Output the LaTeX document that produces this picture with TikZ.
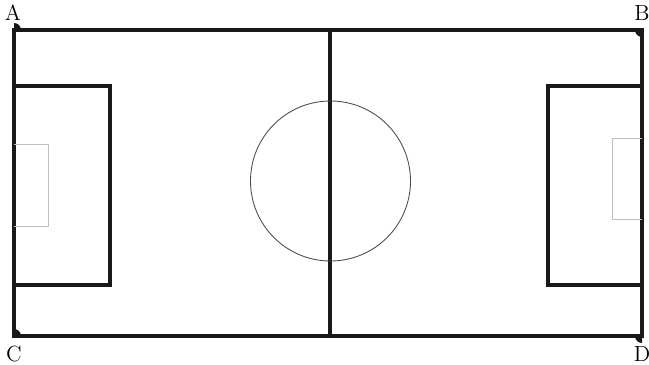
\documentclass[tikz,border=0pt]{standalone}
\usepackage{tikz}
\begin{document}
\begin{tikzpicture}[x=0.02cm,y=-0.02cm,
	thickline/.style={line width=2.3pt,black!90},
	thinline/.style={line width=0.5pt,black!70},
	goalline/.style={line width=0.5pt,black!25},
	corner/.style={font=\fontsize{12.5}{14}\selectfont}]
			\useasboundingbox (0,0) rectangle (649,365);
			\draw[thickline] (14,30) rectangle (642,336);
			\draw[thickline] (330,30) -- (330,336);
			\draw[thinline] (330.5,181) circle (80);
			\draw[thickline] (14,86) -- (110,86) -- (110,285) -- (14,285);
			\draw[thickline] (642,86) -- (548,86) -- (548,285) -- (642,285);
			\draw[goalline] (14,144) -- (48,144) -- (48,226) -- (14,226);
			\draw[goalline] (642,138) -- (612,138) -- (612,219) -- (642,219);
			\fill[black!90] (14,30) -- (21,30) arc (0:-90:7) -- cycle;
			\fill[black!90] (642,30) -- (642,37) arc (90:180:7) -- cycle;
			\fill[black!90] (14,336) -- (14,329) arc (-90:0:7) -- cycle;
			\fill[black!90] (642,336) -- (635,336) arc (180:90:7) -- cycle;
			\node[corner] (a) at (13,13) {A};
			\node[corner] (b) at (642,13) {B};
			\node[corner] (c) at (14,354) {C};
			\node[corner] (d) at (642,354) {D};
		\end{tikzpicture}
\end{document}
